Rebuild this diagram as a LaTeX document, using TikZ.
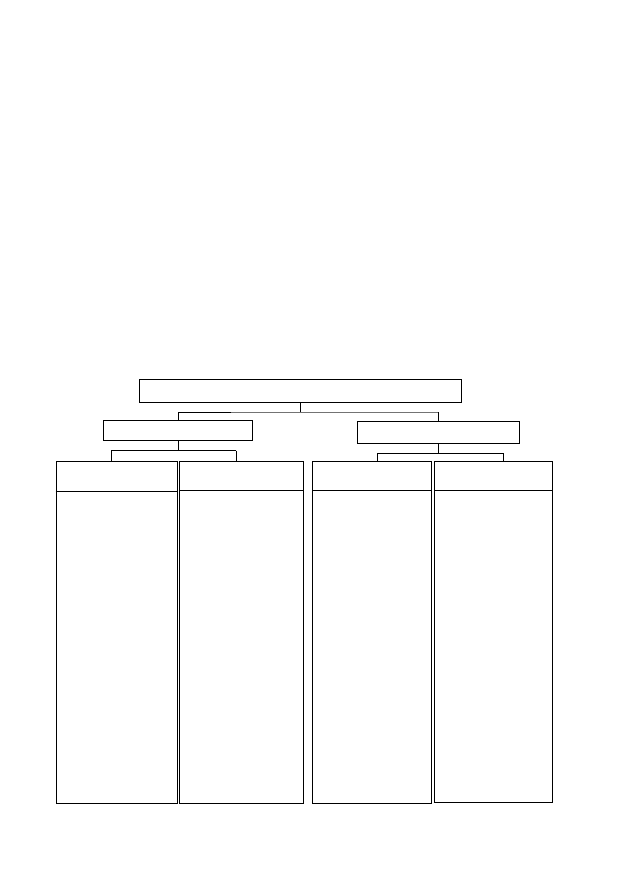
\documentclass[tikz,border=0pt]{standalone}
\usetikzlibrary{calc}
\begin{document}
\begin{tikzpicture}[x=1pt,y=-1pt,
  box/.style={draw=black,line width=0.9pt,rectangle,inner sep=0pt,anchor=north west},
  conn/.style={draw=black,line width=0.9pt},
  connlight/.style={draw=black!55,line width=0.9pt}]
\useasboundingbox (0,0) rectangle (638,893);
\fill[white] (0,0) rectangle (638,893);
% boxes
\node[box,minimum width=321.9pt,minimum height=23pt] (top) at (139.2,379.3) {};
\node[box,minimum width=148.4pt,minimum height=20.3pt] (lmid) at (103.4,420) {};
\node[box,minimum width=162pt,minimum height=21.7pt] (rmid) at (357.2,421.3) {};
\node[box,minimum width=121.0pt,minimum height=342.1pt] (c1) at (55.6,461.2) {};
\node[box,minimum width=124.0pt,minimum height=342.1pt] (c2) at (178.8,461.2) {};
\node[box,minimum width=118.3pt,minimum height=342.1pt] (c3) at (312.3,461.2) {};
\node[box,minimum width=118.1pt,minimum height=341.1pt] (c4) at (434.2,461.2) {};
% header dividers
\draw[conn] (c1.west |- 0,491.7) -- (c1.east |- 0,491.7);
\draw[conn] (c2.west |- 0,490.7) -- (c2.east |- 0,490.7);
\draw[conn] (c3.west |- 0,490.7) -- (c3.east |- 0,490.7);
\draw[conn] (c4.west |- 0,490.7) -- (c4.east |- 0,490.7);
% junctions
\coordinate (j0) at (top.south |- 0,412.3);
\coordinate (j0l) at (lmid.north |- j0);
\coordinate (j0m) at (231,412.3);
\coordinate (j0r) at (rmid.north |- j0);
\coordinate (j1) at (lmid.south |- 0,450.5);
\coordinate (d1) at (111,450.5);
\coordinate (d2) at (236,450.5);
\coordinate (j2) at (rmid.south |- 0,453.3);
\coordinate (d3) at (377.7,453.3);
\coordinate (d4) at (503,453.3);
% connectors from top
\draw[conn] (top.south) -- (j0);
\draw[connlight] (j0m) -- (j0r);
\draw[conn] (j0m) -- (j0l) -- (lmid.north);
\draw[conn] (j0r) -- (rmid.north);
% connectors from left middle
\draw[conn] (lmid.south) -- (j1);
\draw[conn] (d1) -- (d2);
\draw[conn] (d1) -- (d1 |- c1.north);
\draw[conn] (d2) -- (d2 |- c2.north);
% connectors from right middle
\draw[conn] (rmid.south) -- (j2);
\draw[conn] (d3) -- (d4);
\draw[conn] (d3) -- (d3 |- c3.north);
\draw[conn] (d4) -- (d4 |- c4.north);
\end{tikzpicture}
\end{document}
